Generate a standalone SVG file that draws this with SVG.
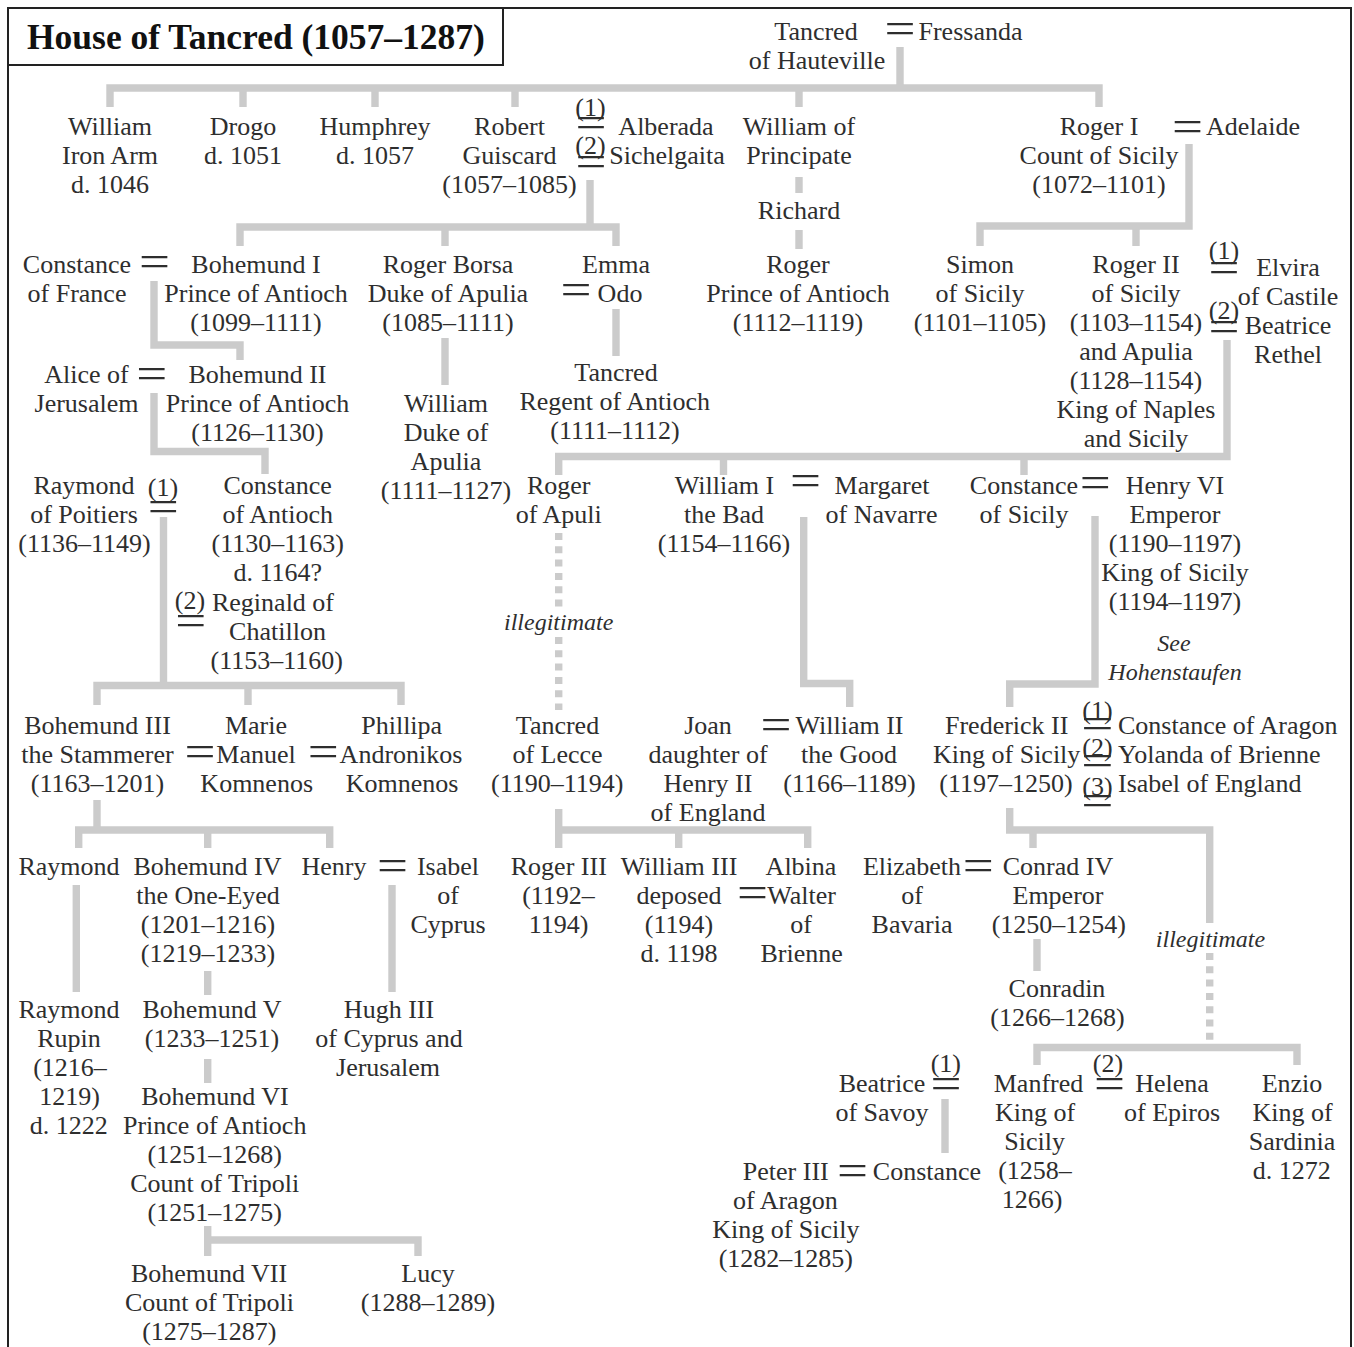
<svg xmlns="http://www.w3.org/2000/svg" width="1354" height="1347" viewBox="0 0 1354 1347">
<style>
text{font-family:"Liberation Serif","Times New Roman",serif;font-size:26px;fill:#2e2e2e;text-anchor:middle}
.i{font-style:italic;font-size:24px}
.eq{font-size:44px}
.n{font-size:26px}
.ln{fill:none;stroke:#cbcbcb;stroke-width:7.4}
.dot{stroke-dasharray:7 6.3}
.frame{fill:none;stroke:#222;stroke-width:2}
.title{font-weight:bold;font-size:35.5px;text-anchor:start;fill:#111}
.st{text-anchor:start}
</style>
<rect width="1354" height="1347" fill="#fff"/>
<path class="frame" d="M8,1347 V8 H1351 V1347"/>
<g id="title"><rect class="frame" x="8" y="8" width="495" height="57"/><text class="title" x="27" y="49">House of Tancred (1057–1287)</text></g>

<g id="connectors">
<path class="ln" d="M110,107 V88 H1099 V107 M243,88 V107 M375,88 V107 M515,88 V107 M799,88 V107 M900,47 V88"/>
<path class="ln" d="M799,177 V193 M799,230 V249"/>
<path class="ln" d="M590,180 V227 M240,246 V227 H616 V246 M445,227 V246"/>
<path class="ln" d="M1189,144 V226 H980 V246 M1136,226 V246"/>
<path class="ln" d="M154,281 V345 H240 V360"/>
<path class="ln" d="M445,338 V385"/>
<path class="ln" d="M616,309 V356"/>
<path class="ln" d="M1227,340 V456.5 H558.7 V475 M723.5,456.5 V475 M1024,456.5 V475"/>
<path class="ln" d="M154,393 V451.5 H265 V474"/>
<path class="ln" d="M163.5,517 V685.5 M97,705 V685.5 H401 V705 M248,685.5 V705"/>
<path class="ln dot" d="M558.7,533 V607 M558.7,637 V710"/>
<path class="ln" d="M803.7,517 V683.5 H849.7 V707"/>
<path class="ln" d="M1095,516 V684 H1009.7 V707"/>
<path class="ln" d="M97,800 V830 M78.7,848 V830 H329.7 V848 M207.7,830 V848"/>
<path class="ln" d="M558.7,809 V848 M558.7,830 H807.7 V848 M678.7,830 V848"/>
<path class="ln" d="M1009.7,808 V830 H1209.7 V923 M1033,830 V848"/>
<path class="ln dot" d="M1209.7,953 V1040"/>
<path class="ln" d="M1037,1065 V1047.5 H1297 V1065"/>
<path class="ln" d="M207.7,971 V995 M207.7,1059 V1083 M207.7,1226 V1240 H418 V1256 M207.7,1240 V1256"/>
<path class="ln" d="M76.3,885 V992"/>
<path class="ln" d="M392,885 V992"/>
<path class="ln" d="M1037,939 V971"/>
<path class="ln" d="M945,1099 V1153"/>
</g>

<g id="tancred"><text x="817" y="39.5"><tspan x="816">Tancred</tspan><tspan x="817" dy="29">of Hauteville</tspan></text></g>
<g id="m-tancred"><text class="eq" transform="translate(900,42.5) scale(1.25,1)">=</text></g>
<g id="fressanda"><text x="970.5" y="39.5">Fressanda</text></g>

<g id="william-iron-arm"><text x="110" y="135"><tspan x="110">William</tspan><tspan x="110" dy="29">Iron Arm</tspan><tspan x="110" dy="29">d. 1046</tspan></text></g>
<g id="drogo"><text x="243" y="135"><tspan x="243">Drogo</tspan><tspan x="243" dy="29">d. 1051</tspan></text></g>
<g id="humphrey"><text x="375" y="135"><tspan x="375">Humphrey</tspan><tspan x="375" dy="29">d. 1057</tspan></text></g>
<g id="robert"><text x="509.5" y="135"><tspan x="509.5">Robert</tspan><tspan x="509.5" dy="29">Guiscard</tspan><tspan x="509.5" dy="29">(1057–1085)</tspan></text></g>
<g id="m-robert"><text class="n" x="590.5" y="116">(1)</text><text class="eq" transform="translate(591,136.5) scale(1.25,1)">=</text><text class="n" x="590.5" y="154">(2)</text><text class="eq" transform="translate(591,176) scale(1.25,1)">=</text></g>
<g id="alberada"><text x="666" y="135">Alberada</text></g>
<g id="sichelgaita"><text x="667" y="164">Sichelgaita</text></g>
<g id="william-principate"><text x="799" y="135"><tspan x="799">William of</tspan><tspan x="799" dy="29">Principate</tspan></text></g>
<g id="richard"><text x="799" y="219">Richard</text></g>
<g id="roger-i"><text x="1099" y="135"><tspan x="1099">Roger I</tspan><tspan x="1099" dy="29">Count of Sicily</tspan><tspan x="1099" dy="29">(1072–1101)</tspan></text></g>
<g id="m-roger-i"><text class="eq" transform="translate(1187.5,141) scale(1.25,1)">=</text></g>
<g id="adelaide"><text x="1253" y="135">Adelaide</text></g>

<g id="constance-france"><text x="77" y="273"><tspan x="77">Constance</tspan><tspan x="77" dy="29">of France</tspan></text></g>
<g id="m-bohemund-i"><text class="eq" transform="translate(154.5,276) scale(1.25,1)">=</text></g>
<g id="bohemund-i"><text x="256" y="273"><tspan x="256">Bohemund I</tspan><tspan x="256" dy="29">Prince of Antioch</tspan><tspan x="256" dy="29">(1099–1111)</tspan></text></g>
<g id="roger-borsa"><text x="448" y="273"><tspan x="448">Roger Borsa</tspan><tspan x="448" dy="29">Duke of Apulia</tspan><tspan x="448" dy="29">(1085–1111)</tspan></text></g>
<g id="emma"><text x="616" y="273">Emma</text></g>
<g id="m-emma"><text class="eq" transform="translate(576,304) scale(1.25,1)">=</text></g>
<g id="odo"><text x="620" y="302">Odo</text></g>
<g id="roger-antioch"><text x="798" y="273"><tspan x="798">Roger</tspan><tspan x="798" dy="29">Prince of Antioch</tspan><tspan x="798" dy="29">(1112–1119)</tspan></text></g>
<g id="simon"><text x="980" y="273"><tspan x="980">Simon</tspan><tspan x="980" dy="29">of Sicily</tspan><tspan x="980" dy="29">(1101–1105)</tspan></text></g>
<g id="roger-ii"><text x="1136" y="273"><tspan x="1136">Roger II</tspan><tspan x="1136" dy="29">of Sicily</tspan><tspan x="1136" dy="29">(1103–1154)</tspan><tspan x="1136" dy="29">and Apulia</tspan><tspan x="1136" dy="29">(1128–1154)</tspan><tspan x="1136" dy="29">King of Naples</tspan><tspan x="1136" dy="29">and Sicily</tspan></text></g>
<g id="m-roger-ii"><text class="n" x="1224" y="259">(1)</text><text class="eq" transform="translate(1224,282) scale(1.25,1)">=</text><text class="n" x="1224" y="319">(2)</text><text class="eq" transform="translate(1224,341) scale(1.25,1)">=</text></g>
<g id="elvira"><text x="1288" y="275.5"><tspan x="1288">Elvira</tspan><tspan x="1288" dy="29">of Castile</tspan></text></g>
<g id="beatrice-rethel"><text x="1288" y="333.5"><tspan x="1288">Beatrice</tspan><tspan x="1288" dy="29">Rethel</tspan></text></g>

<g id="alice"><text x="86.5" y="383"><tspan x="86.5">Alice of</tspan><tspan x="86.5" dy="29">Jerusalem</tspan></text></g>
<g id="m-bohemund-ii"><text class="eq" transform="translate(151.7,387.5) scale(1.25,1)">=</text></g>
<g id="bohemund-ii"><text x="257.5" y="383"><tspan x="257.5">Bohemund II</tspan><tspan x="257.5" dy="29">Prince of Antioch</tspan><tspan x="257.5" dy="29">(1126–1130)</tspan></text></g>
<g id="william-apulia"><text x="446" y="412"><tspan x="446">William</tspan><tspan x="446" dy="29">Duke of</tspan><tspan x="446" dy="29">Apulia</tspan><tspan x="446" dy="29">(1111–1127)</tspan></text></g>
<g id="tancred-regent"><text x="615" y="381"><tspan x="616">Tancred</tspan><tspan x="614.7" dy="29">Regent of Antioch</tspan><tspan x="615" dy="29">(1111–1112)</tspan></text></g>

<g id="raymond-poitiers"><text x="84" y="494"><tspan x="84">Raymond</tspan><tspan x="84" dy="29">of Poitiers</tspan><tspan x="84.5" dy="29">(1136–1149)</tspan></text></g>
<g id="m-constance-antioch"><text class="n" x="163" y="496">(1)</text><text class="eq" transform="translate(163.3,521) scale(1.25,1)">=</text><text class="n" x="190" y="609">(2)</text><text class="eq" transform="translate(190.8,635) scale(1.25,1)">=</text></g>
<g id="constance-antioch"><text x="277.7" y="494"><tspan x="277.7">Constance</tspan><tspan x="277.7" dy="29">of Antioch</tspan><tspan x="277.7" dy="29">(1130–1163)</tspan><tspan x="277.7" dy="29">d. 1164?</tspan></text></g>
<g id="reginald"><text x="276" y="611"><tspan x="273">Reginald of</tspan><tspan x="277.5" dy="29">Chatillon</tspan><tspan x="276.7" dy="29">(1153–1160)</tspan></text></g>
<g id="roger-apulia"><text x="558.7" y="494"><tspan x="558.7">Roger</tspan><tspan x="558.7" dy="29">of Apuli</tspan></text></g>
<g id="label-illegitimate-1"><text class="i" x="558.7" y="630">illegitimate</text></g>
<g id="william-i"><text x="724.5" y="494"><tspan x="724.5">William I</tspan><tspan x="724" dy="29">the Bad</tspan><tspan x="724" dy="29">(1154–1166)</tspan></text></g>
<g id="m-william-i"><text class="eq" transform="translate(805.5,495) scale(1.25,1)">=</text></g>
<g id="margaret"><text x="881.5" y="494"><tspan x="882">Margaret</tspan><tspan x="881.5" dy="29">of Navarre</tspan></text></g>
<g id="constance-sicily"><text x="1024" y="494"><tspan x="1024">Constance</tspan><tspan x="1024" dy="29">of Sicily</tspan></text></g>
<g id="m-constance-sicily"><text class="eq" transform="translate(1095.3,497) scale(1.25,1)">=</text></g>
<g id="henry-vi"><text x="1175" y="494"><tspan x="1175">Henry VI</tspan><tspan x="1175" dy="29">Emperor</tspan><tspan x="1175" dy="29">(1190–1197)</tspan><tspan x="1175" dy="29">King of Sicily</tspan><tspan x="1175" dy="29">(1194–1197)</tspan></text></g>
<g id="see-hohenstaufen"><text class="i" x="1174.5" y="651"><tspan x="1174">See</tspan><tspan x="1175" dy="29">Hohenstaufen</tspan></text></g>

<g id="bohemund-iii"><text x="97.5" y="734"><tspan x="97.5">Bohemund III</tspan><tspan x="97.5" dy="29">the Stammerer</tspan><tspan x="97.5" dy="29">(1163–1201)</tspan></text></g>
<g id="m-marie"><text class="eq" transform="translate(200,765.5) scale(1.25,1)">=</text></g>
<g id="marie"><text x="256" y="734"><tspan x="256">Marie</tspan><tspan x="256" dy="29">Manuel</tspan><tspan x="256.7" dy="29">Komnenos</tspan></text></g>
<g id="m-phillipa"><text class="eq" transform="translate(323.3,765.5) scale(1.25,1)">=</text></g>
<g id="phillipa"><text x="401.5" y="734"><tspan x="401.7">Phillipa</tspan><tspan x="401" dy="29">Andronikos</tspan><tspan x="402" dy="29">Komnenos</tspan></text></g>
<g id="tancred-lecce"><text x="557.5" y="734"><tspan x="557.5">Tancred</tspan><tspan x="557.5" dy="29">of Lecce</tspan><tspan x="557.3" dy="29">(1190–1194)</tspan></text></g>
<g id="joan"><text x="708" y="734"><tspan x="708">Joan</tspan><tspan x="708" dy="29">daughter of</tspan><tspan x="708" dy="29">Henry II</tspan><tspan x="708" dy="29">of England</tspan></text></g>
<g id="m-joan"><text class="eq" transform="translate(776,739) scale(1.25,1)">=</text></g>
<g id="william-ii"><text x="849.5" y="734"><tspan x="849.5">William II</tspan><tspan x="849" dy="29">the Good</tspan><tspan x="849.5" dy="29">(1166–1189)</tspan></text></g>
<g id="frederick-ii"><text x="1006.5" y="734"><tspan x="1006.7">Frederick II</tspan><tspan x="1006.7" dy="29">King of Sicily</tspan><tspan x="1006" dy="29">(1197–1250)</tspan></text></g>
<g id="m-frederick-ii"><text class="n" x="1097.5" y="719">(1)</text><text class="eq" transform="translate(1097.5,737.8) scale(1.3,1)">=</text><text class="n" x="1097.5" y="755.5">(2)</text><text class="eq" transform="translate(1097.5,774.5) scale(1.3,1)">=</text><text class="n" x="1097.5" y="794.5">(3)</text><text class="eq" transform="translate(1097.5,814.5) scale(1.3,1)">=</text></g>
<g id="constance-aragon"><text class="st" x="1118" y="734">Constance of Aragon</text></g>
<g id="yolanda"><text class="st" x="1118" y="763">Yolanda of Brienne</text></g>
<g id="isabel-england"><text class="st" x="1118" y="792">Isabel of England</text></g>

<g id="raymond"><text x="69" y="875">Raymond</text></g>
<g id="bohemund-iv"><text x="208" y="875"><tspan x="207.5">Bohemund IV</tspan><tspan x="208" dy="29">the One-Eyed</tspan><tspan x="208" dy="29">(1201–1216)</tspan><tspan x="208" dy="29">(1219–1233)</tspan></text></g>
<g id="henry"><text x="334" y="875">Henry</text></g>
<g id="m-henry"><text class="eq" transform="translate(392.5,879.5) scale(1.25,1)">=</text></g>
<g id="isabel-cyprus"><text x="448" y="875"><tspan x="448">Isabel</tspan><tspan x="448" dy="29">of</tspan><tspan x="448" dy="29">Cyprus</tspan></text></g>
<g id="roger-iii"><text x="558.5" y="875"><tspan x="558.8">Roger III</tspan><tspan x="558.5" dy="29">(1192–</tspan><tspan x="558.5" dy="29">1194)</tspan></text></g>
<g id="william-iii"><text x="679" y="875"><tspan x="679">William III</tspan><tspan x="679" dy="29">deposed</tspan><tspan x="679" dy="29">(1194)</tspan><tspan x="679" dy="29">d. 1198</tspan></text></g>
<g id="albina"><text x="801" y="875">Albina</text></g>
<g id="m-albina"><text class="eq" transform="translate(752.5,906.5) scale(1.25,1)">=</text></g>
<g id="walter"><text x="801.5" y="904"><tspan x="801.7">Walter</tspan><tspan x="801" dy="29">of</tspan><tspan x="801.7" dy="29">Brienne</tspan></text></g>
<g id="elizabeth"><text x="912" y="875"><tspan x="912">Elizabeth</tspan><tspan x="912" dy="29">of</tspan><tspan x="912" dy="29">Bavaria</tspan></text></g>
<g id="m-conrad-iv"><text class="eq" transform="translate(978.3,880) scale(1.25,1)">=</text></g>
<g id="conrad-iv"><text x="1058" y="875"><tspan x="1058">Conrad IV</tspan><tspan x="1058" dy="29">Emperor</tspan><tspan x="1058.8" dy="29">(1250–1254)</tspan></text></g>
<g id="label-illegitimate-2"><text class="i" x="1210.5" y="947">illegitimate</text></g>
<g id="conradin"><text x="1057" y="997"><tspan x="1057">Conradin</tspan><tspan x="1057.5" dy="29">(1266–1268)</tspan></text></g>

<g id="raymond-rupin"><text x="69" y="1018"><tspan x="69">Raymond</tspan><tspan x="69" dy="29">Rupin</tspan><tspan x="70" dy="29">(1216–</tspan><tspan x="69.5" dy="29">1219)</tspan><tspan x="68.8" dy="29">d. 1222</tspan></text></g>
<g id="bohemund-v"><text x="212" y="1018"><tspan x="212">Bohemund V</tspan><tspan x="212" dy="29">(1233–1251)</tspan></text></g>
<g id="hugh-iii"><text x="389" y="1018"><tspan x="389">Hugh III</tspan><tspan x="389" dy="29">of Cyprus and</tspan><tspan x="388" dy="29">Jerusalem</tspan></text></g>
<g id="bohemund-vi"><text x="214.7" y="1105"><tspan x="215">Bohemund VI</tspan><tspan x="214.7" dy="29">Prince of Antioch</tspan><tspan x="214.7" dy="29">(1251–1268)</tspan><tspan x="214.7" dy="29">Count of Tripoli</tspan><tspan x="214.7" dy="29">(1251–1275)</tspan></text></g>
<g id="bohemund-vii"><text x="209.3" y="1282"><tspan x="209">Bohemund VII</tspan><tspan x="209.5" dy="29">Count of Tripoli</tspan><tspan x="209.3" dy="29">(1275–1287)</tspan></text></g>
<g id="lucy"><text x="428" y="1282"><tspan x="428">Lucy</tspan><tspan x="428" dy="29">(1288–1289)</tspan></text></g>

<g id="beatrice-savoy"><text x="882" y="1092"><tspan x="882">Beatrice</tspan><tspan x="882" dy="29">of Savoy</tspan></text></g>
<g id="m-beatrice"><text class="n" x="945.8" y="1072">(1)</text><text class="eq" transform="translate(946,1098) scale(1.25,1)">=</text></g>
<g id="peter-iii"><text x="786" y="1180"><tspan x="785.8">Peter III</tspan><tspan x="785.3" dy="29">of Aragon</tspan><tspan x="785.8" dy="29">King of Sicily</tspan><tspan x="785.8" dy="29">(1282–1285)</tspan></text></g>
<g id="m-constance"><text class="eq" transform="translate(852.5,1184.5) scale(1.25,1)">=</text></g>
<g id="constance"><text x="927" y="1180">Constance</text></g>
<g id="manfred"><text x="1036" y="1092"><tspan x="1038.5">Manfred</tspan><tspan x="1035" dy="29">King of</tspan><tspan x="1034.7" dy="29">Sicily</tspan><tspan x="1035" dy="29">(1258–</tspan><tspan x="1032" dy="29">1266)</tspan></text></g>
<g id="m-helena"><text class="n" x="1108" y="1072">(2)</text><text class="eq" transform="translate(1109.5,1098) scale(1.25,1)">=</text></g>
<g id="helena"><text x="1172" y="1092"><tspan x="1172">Helena</tspan><tspan x="1172" dy="29">of Epiros</tspan></text></g>
<g id="enzio"><text x="1292" y="1092"><tspan x="1292">Enzio</tspan><tspan x="1292.5" dy="29">King of</tspan><tspan x="1292" dy="29">Sardinia</tspan><tspan x="1291.7" dy="29">d. 1272</tspan></text></g>
</svg>
